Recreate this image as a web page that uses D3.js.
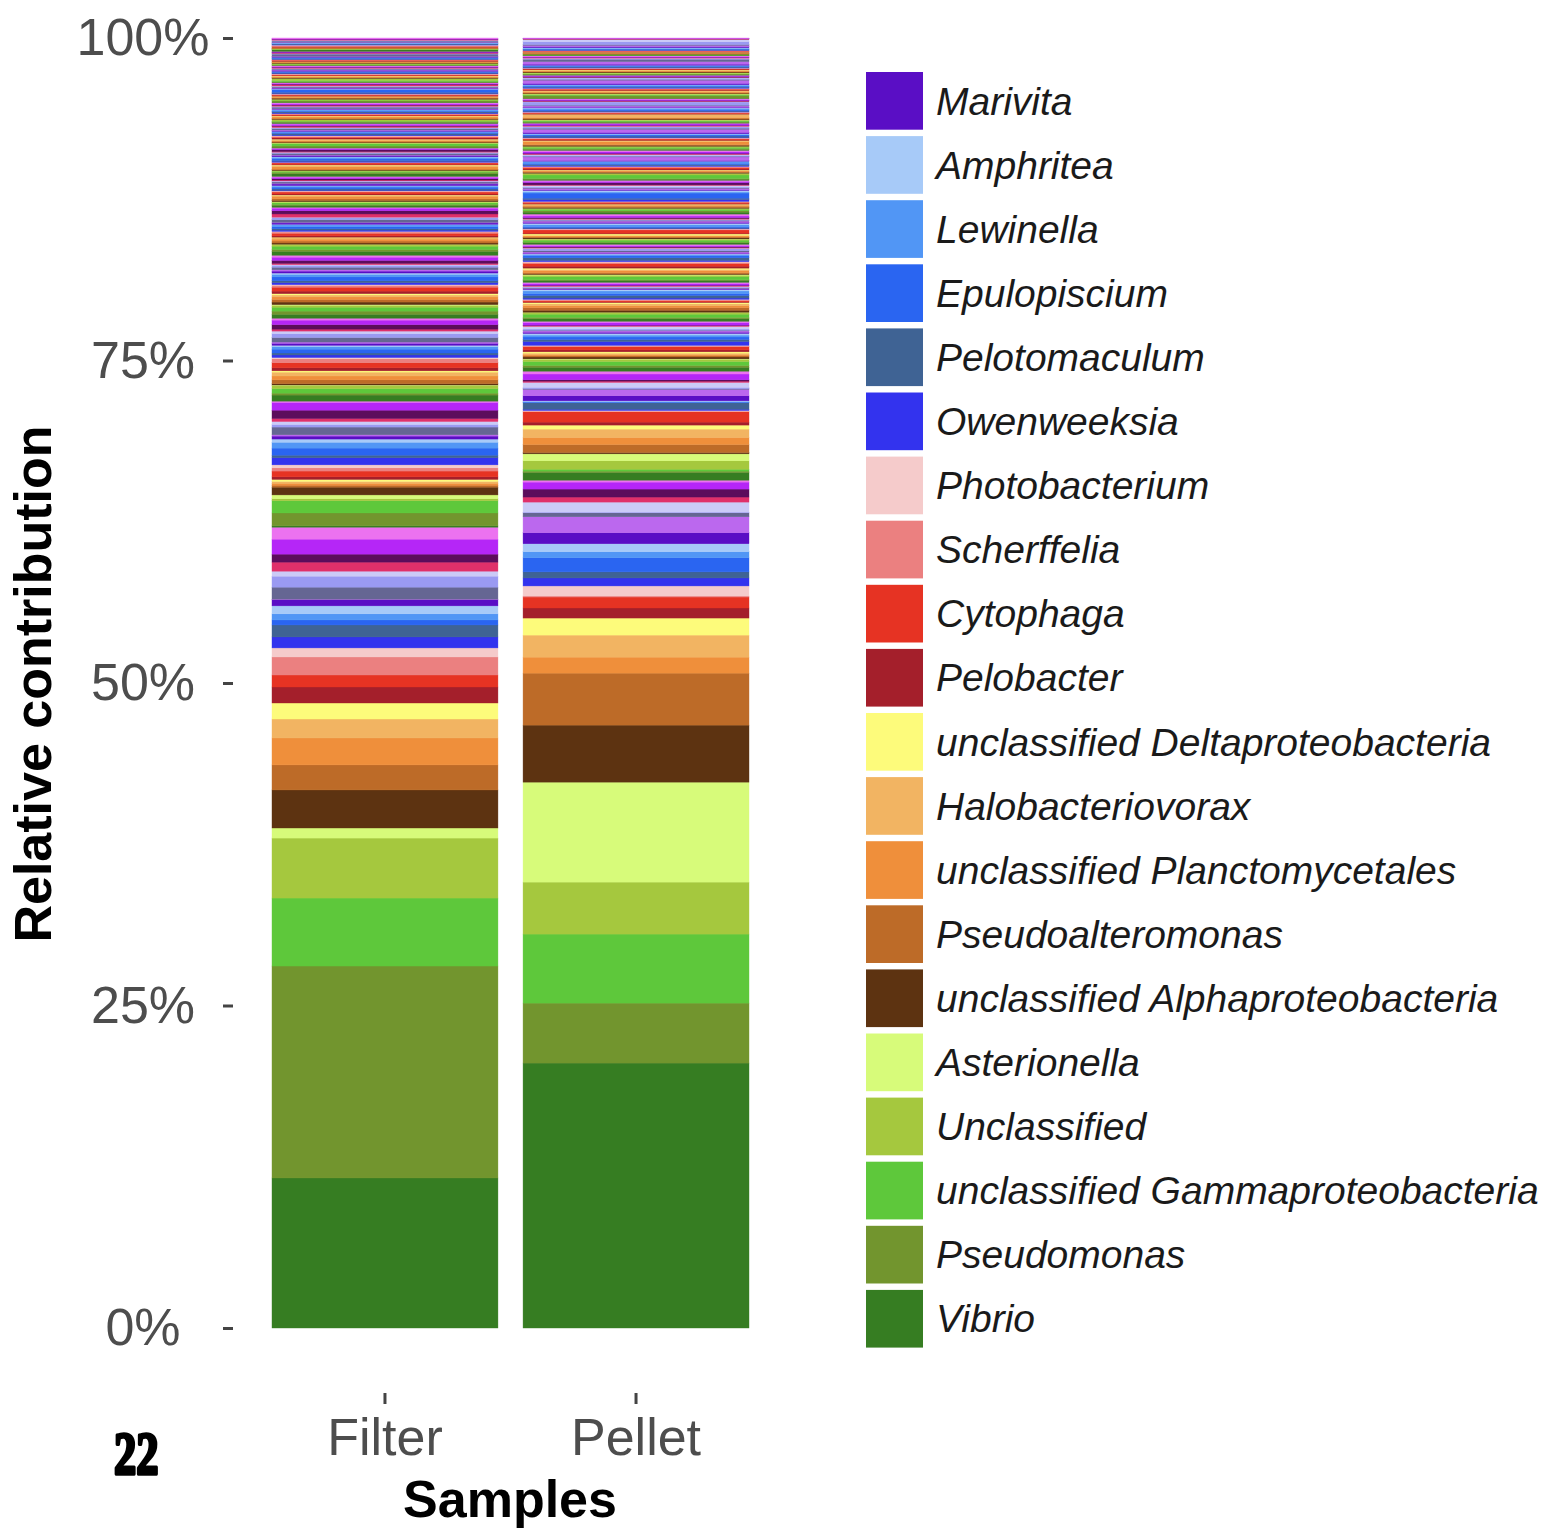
<!DOCTYPE html>
<html lang="en">
<head>
    <meta charset="UTF-8">
    <title>Relative contribution by sample</title>
    <script src="https://d3js.org/d3.v7.min.js"></script>
    <style>
        body { margin: 0; background: #fff; }
        text { font-family: "Liberation Sans", Arial, sans-serif; }
    </style>
</head>
<body>
    <svg width="1555" height="1529"></svg>

    <script>
        // samples on the x axis
        const samples = ["Filter", "Pellet"];

        // legend genera, bottom of the stack first
        const legendTaxa = [
            "Vibrio", "Pseudomonas", "unclassified Gammaproteobacteria", "Unclassified",
            "Asterionella", "unclassified Alphaproteobacteria", "Pseudoalteromonas",
            "unclassified Planctomycetales", "Halobacteriovorax", "unclassified Deltaproteobacteria",
            "Pelobacter", "Cytophaga", "Scherffelia", "Photobacterium", "Owenweeksia",
            "Pelotomaculum", "Epulopiscium", "Lewinella", "Amphritea", "Marivita"
        ];

        // fill colours, recycled for the remaining (unlabelled) genera
        const palette = [
            "#367d22", "#72952e", "#5ec83b", "#a5c83e", "#d7fb7a", "#5d3311", "#bd6b28",
            "#ef8f3b", "#f2b462", "#fdfb7b", "#a41f2b", "#e63323", "#eb8080", "#f5cbcb",
            "#3333ee", "#3f6394", "#2a65f1", "#5196f5", "#a7caf8", "#5a0ec5", "#bb68ee",
            "#656693", "#9a9af2", "#cbcbf7", "#e0306a", "#5c0d5c", "#b526f7", "#ec72f0"
        ];

        // percent per genus, one row per pass through the palette
        const filterValues = [
            [11.63, 16.43, 5.27, 4.65, 0.78, 2.95, 1.94, 2.09, 1.47, 1.24, 1.24, 0.93, 1.40, 0.70, 0.85, 0.93, 0.39, 0.47, 0.62, 0.47, 0.05, 0.93, 0.85, 0.39, 0.70, 0.62, 1.16, 0.93],
            [0.10, 1.00, 0.95, 0.15, 0.30, 0.60, 0.15, 0.15, 0.15, 0.15, 0.20, 0.45, 0.25, 0.23, 0.55, 0.20, 0.55, 0.45, 0.25, 0.23, 0.10, 0.60, 0.20, 0.23, 0.23, 0.65, 0.60, 0.10],
            [0.47, 0.15, 0.35, 0.23, 0.05, 0.10, 0.30, 0.30, 0.30, 0.10, 0.23, 0.40, 0.30, 0.10, 0.20, 0.15, 0.30, 0.20, 0.10, 0.15, 0.10, 0.35, 0.30, 0.20, 0.15, 0.35, 0.35, 0.15],
            [0.30, 0.25, 0.30, 0.15, 0.05, 0.20, 0.20, 0.20, 0.15, 0.10, 0.20, 0.30, 0.15, 0.05, 0.15, 0.15, 0.30, 0.20, 0.10, 0.15, 0.10, 0.20, 0.15, 0.05, 0.10, 0.23, 0.25, 0.15],
            [0.30, 0.15, 0.25, 0.10, 0.05, 0.10, 0.15, 0.15, 0.10, 0.05, 0.10, 0.20, 0.10, 0.05, 0.10, 0.10, 0.15, 0.15, 0.05, 0.10, 0.05, 0.20, 0.15, 0.05, 0.25, 0.25, 0.20, 0.07],
            [0.15, 0.08, 0.12, 0.05, 0.03, 0.10, 0.12, 0.20, 0.06, 0.04, 0.08, 0.15, 0.06, 0.03, 0.05, 0.10, 0.14, 0.08, 0.04, 0.12, 0.06, 0.10, 0.05, 0.03, 0.07, 0.10, 0.12, 0.06],
            [0.20, 0.12, 0.08, 0.03, 0.02, 0.06, 0.05, 0.18, 0.12, 0.03, 0.05, 0.10, 0.04, 0.02, 0.08, 0.06, 0.15, 0.10, 0.03, 0.10, 0.04, 0.12, 0.08, 0.02, 0.05, 0.14, 0.08, 0.05],
            [0.06, 0.10, 0.18, 0.04, 0.02, 0.05, 0.08, 0.06, 0.04, 0.06, 0.10, 0.05, 0.08, 0.03, 0.06, 0.12, 0.08, 0.05, 0.03, 0.06, 0.05, 0.10, 0.06, 0.03, 0.10, 0.04, 0.12, 0.05],
            [0.08, 0.06, 0.05, 0.10, 0.02, 0.04, 0.06, 0.10, 0.05, 0.03, 0.04, 0.08, 0.03, 0.02, 0.06, 0.10, 0.05, 0.08, 0.03, 0.04, 0.03, 0.12, 0.05, 0.02, 0.08, 0.03, 0.10, 0.06],
            [0.05, 0.10, 0.04, 0.06, 0.02, 0.08, 0.03, 0.06, 0.05, 0.02, 0.05, 0.06, 0.04, 0.02, 0.05, 0.08, 0.20, 0.04, 0.02, 0.06, 0.04, 0.08, 0.03, 0.02, 0.10, 0.05, 0.06, 0.04],
            [0.04, 0.06, 0.08, 0.13, 0.02, 0.05, 0.04, 0.03, 0.06, 0.02, 0.03, 0.05, 0.06, 0.02, 0.04, 0.06, 0.05, 0.03, 0.02, 0.08, 0.03, 0.06, 0.04, 0.02, 0.05, 0.04, 0.06, 0.05],
            [0.03, 0.05, 0.04, 0.03, 0.02, 0.04, 0.05, 0.03, 0.02, 0.02, 0.04, 0.06, 0.03, 0.02, 0.03, 0.05, 0.04, 0.03, 0.02, 0.05, 0.04, 0.16, 0.03, 0.02, 0.04, 0.05, 0.04, 0.03],
            [0.12, 0.03, 0.02, 0.02, 0.01, 0.03, 0.02, 0.03, 0.02, 0.01, 0.03, 0.04, 0.06, 0.05, 0.03, 0.06, 0.04, 0.02, 0.03, 0.02, 0.03, 0.08, 0.04, 0.03, 0.05, 0.03, 0.04, 0.05]
        ];

        const pelletValues = [
            [20.54, 4.65, 5.35, 4.03, 7.75, 4.42, 4.03, 1.24, 1.71, 1.32, 0.78, 0.85, 0.08, 0.78, 0.62, 0.47, 1.09, 0.47, 0.62, 0.85, 1.24, 0.31, 0.05, 0.78, 0.39, 0.62, 0.54, 0.15],
            [0.60, 0.10, 0.15, 0.65, 0.54, 0.10, 0.62, 0.55, 0.65, 0.31, 0.23, 0.80, 0.05, 0.05, 0.10, 0.50, 0.05, 0.05, 0.05, 0.39, 0.50, 0.05, 0.10, 0.39, 0.10, 0.10, 0.45, 0.22],
            [0.30, 0.15, 0.30, 0.15, 0.05, 0.15, 0.10, 0.10, 0.10, 0.10, 0.15, 0.25, 0.05, 0.05, 0.30, 0.15, 0.20, 0.15, 0.12, 0.10, 0.10, 0.05, 0.10, 0.20, 0.05, 0.05, 0.20, 0.10],
            [0.20, 0.10, 0.25, 0.10, 0.05, 0.15, 0.20, 0.15, 0.15, 0.10, 0.05, 0.10, 0.05, 0.05, 0.10, 0.20, 0.15, 0.20, 0.10, 0.05, 0.05, 0.05, 0.05, 0.05, 0.05, 0.05, 0.13, 0.09],
            [0.15, 0.05, 0.25, 0.10, 0.05, 0.05, 0.10, 0.15, 0.10, 0.10, 0.15, 0.20, 0.10, 0.05, 0.10, 0.20, 0.15, 0.10, 0.05, 0.05, 0.10, 0.10, 0.15, 0.05, 0.05, 0.05, 0.10, 0.10],
            [0.12, 0.05, 0.15, 0.06, 0.03, 0.10, 0.05, 0.08, 0.06, 0.10, 0.06, 0.25, 0.05, 0.03, 0.04, 0.06, 0.08, 0.15, 0.10, 0.08, 0.10, 0.06, 0.03, 0.05, 0.05, 0.08, 0.12, 0.15],
            [0.15, 0.10, 0.12, 0.04, 0.03, 0.06, 0.10, 0.08, 0.05, 0.04, 0.06, 0.08, 0.04, 0.03, 0.15, 0.10, 0.40, 0.08, 0.12, 0.06, 0.10, 0.05, 0.06, 0.12, 0.04, 0.18, 0.10, 0.08],
            [0.08, 0.06, 0.27, 0.10, 0.03, 0.05, 0.08, 0.06, 0.04, 0.03, 0.08, 0.10, 0.06, 0.03, 0.06, 0.08, 0.10, 0.12, 0.05, 0.06, 0.27, 0.05, 0.08, 0.05, 0.05, 0.06, 0.12, 0.10],
            [0.06, 0.08, 0.10, 0.05, 0.02, 0.08, 0.06, 0.22, 0.06, 0.03, 0.05, 0.08, 0.04, 0.03, 0.05, 0.10, 0.08, 0.06, 0.04, 0.10, 0.25, 0.08, 0.10, 0.04, 0.05, 0.04, 0.10, 0.06],
            [0.05, 0.06, 0.08, 0.04, 0.02, 0.06, 0.08, 0.05, 0.22, 0.03, 0.04, 0.06, 0.05, 0.02, 0.04, 0.06, 0.10, 0.08, 0.04, 0.05, 0.10, 0.06, 0.25, 0.03, 0.04, 0.05, 0.08, 0.06],
            [0.04, 0.20, 0.06, 0.05, 0.02, 0.04, 0.06, 0.08, 0.05, 0.02, 0.05, 0.06, 0.04, 0.03, 0.06, 0.05, 0.06, 0.08, 0.03, 0.10, 0.25, 0.06, 0.10, 0.04, 0.03, 0.05, 0.06, 0.05],
            [0.03, 0.06, 0.04, 0.03, 0.02, 0.06, 0.04, 0.05, 0.06, 0.02, 0.04, 0.05, 0.03, 0.02, 0.04, 0.06, 0.05, 0.04, 0.03, 0.08, 0.20, 0.18, 0.06, 0.03, 0.04, 0.03, 0.06, 0.05],
            [0.03, 0.02, 0.04, 0.02, 0.01, 0.05, 0.03, 0.04, 0.02, 0.02, 0.03, 0.04, 0.04, 0.02, 0.03, 0.05, 0.04, 0.06, 0.04, 0.08, 0.10, 0.06, 0.22, 0.18, 0.03, 0.02, 0.04, 0.02]
        ];

        // y axis ticks
        const yTicks = [0, 0.25, 0.5, 0.75, 1];
        const yTickLabels = ["0%", "25%", "50%", "75%", "100%"];

        // ---- build the table d3.stack wants ----
        const filterFlat = filterValues.flat();
        const pelletFlat = pelletValues.flat();
        const taxa = filterFlat.map((v, i) => i < legendTaxa.length ? legendTaxa[i] : "Other genus " + (i + 1));
        const table = samples.map((s, si) => {
            const vals = si === 0 ? filterFlat : pelletFlat;
            const row = {sample: s};
            taxa.forEach((t, i) => row[t] = vals[i]);
            return row;
        });

        const svg = d3.select("svg");

        const x = d3.scaleBand()
            .domain(samples)
            .range([272, 749])
            .paddingInner(0.1)
            .paddingOuter(0);

        const y = d3.scaleLinear()
            .domain([0, 1])
            .range([1328, 38]);

        const colour = d3.scaleOrdinal()
            .domain(taxa)
            .range(palette);

        // relative contribution = each genus over the sample total
        const series = d3.stack()
            .keys(taxa)
            .offset(d3.stackOffsetExpand)(table);

        // bars
        svg.append("g")
            .selectAll("g")
            .data(series)
            .join("g")
            .attr("fill", d => colour(d.key))
            .attr("stroke", d => colour(d.key))
            .attr("stroke-width", 0.4)
            .selectAll("rect")
            .data(d => d)
            .join("rect")
            .attr("x", d => x(d.data.sample))
            .attr("width", x.bandwidth())
            .attr("y", d => y(d[1]))
            .attr("height", d => Math.max(0, y(d[0]) - y(d[1])));

        // y axis
        const yAxis = svg.append("g")
            .attr("transform", "translate(233,0)")
            .call(d3.axisLeft(y)
                .tickValues(yTicks)
                .tickFormat((d, i) => yTickLabels[i])
                .tickSize(10));
        yAxis.select(".domain").remove();
        yAxis.selectAll(".tick line")
            .attr("stroke", "#444")
            .attr("stroke-width", 3);
        yAxis.selectAll(".tick text")
            .attr("x", -90)
            .attr("text-anchor", "middle")
            .attr("fill", "#4d4d4d")
            .style("font-size", "52px");

        // x axis
        const xAxis = svg.append("g")
            .attr("transform", "translate(0,1393)")
            .call(d3.axisBottom(x).tickSize(11).tickPadding(14));
        xAxis.select(".domain").remove();
        xAxis.selectAll(".tick line")
            .attr("stroke", "#444")
            .attr("stroke-width", 3);
        xAxis.selectAll(".tick text")
            .attr("fill", "#4d4d4d")
            .style("font-size", "52px");

        // axis titles
        svg.append("text")
            .attr("x", 510)
            .attr("y", 1517)
            .attr("text-anchor", "middle")
            .style("font-size", "52px")
            .style("font-weight", "bold")
            .text("Samples");

        svg.append("text")
            .attr("transform", "translate(51,684) rotate(-90)")
            .attr("text-anchor", "middle")
            .style("font-size", "52px")
            .style("font-weight", "bold")
            .text("Relative contribution");

        // legend, top entry is the last genus of the stack
        const legendOrder = legendTaxa.slice().reverse();
        const ly = d3.scaleBand()
            .domain(legendOrder)
            .range([68.8, 1350.8])
            .paddingInner(0.1)
            .paddingOuter(0.05);

        const legend = svg.append("g");
        legend.selectAll("rect")
            .data(legendOrder)
            .join("rect")
            .attr("x", 866)
            .attr("y", d => ly(d))
            .attr("width", 57)
            .attr("height", ly.bandwidth())
            .attr("fill", d => colour(d));

        legend.selectAll("text")
            .data(legendOrder)
            .join("text")
            .attr("x", 936)
            .attr("y", d => ly(d) + ly.bandwidth() / 2)
            .attr("dy", "0.35em")
            .attr("fill", "#1a1a1a")
            .style("font-size", "39px")
            .style("font-style", "italic")
            .text(d => d);

        // page number, heavy condensed serif
        svg.append("text")
            .attr("transform", "translate(114,1474) scale(0.72,1)")
            .attr("stroke", "#000")
            .attr("stroke-width", 3.5)
            .attr("stroke-linejoin", "round")
            .style("font-family", "'Liberation Serif', serif")
            .style("font-size", "62px")
            .style("font-weight", "bold")
            .text("22");
    </script>
</body>
</html>
